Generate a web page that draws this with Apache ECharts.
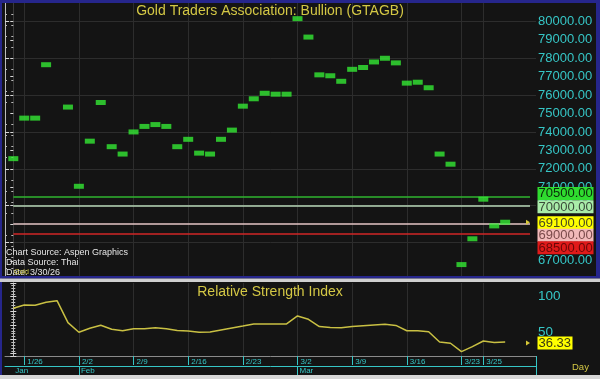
<!DOCTYPE html>
<html><head><meta charset="utf-8">
<script src="https://cdn.jsdelivr.net/npm/echarts@6/dist/echarts.min.js"></script>
<style>html,body{margin:0;padding:0;background:#141414;} #c{width:600px;height:379px;}</style>
</head><body><div id="c"></div>
<script>
// ---------- DATA ----------
const dates = ['1/23','1/26','1/27','1/28','1/29','1/30',
  '2/2','2/3','2/4','2/5','2/6','2/9','2/10','2/11','2/12','2/13',
  '2/16','2/17','2/18','2/19','2/20','2/23','2/24','2/25','2/26','2/27',
  '3/2','3/3','3/4','3/5','3/6','3/9','3/10','3/11','3/12','3/13',
  '3/16','3/17','3/18','3/19','3/20','3/23','3/24','3/25','3/26','3/27'];
const prices = [72550, 74750, 74750, 77650, null, 75350,
  71050, 73500, 75600, 73200, 72800, 74000, 74300, 74400, 74300, 73200,
  73600, 72850, 72800, 73600, 74100, 75400, 75800, 76100, 76050, 76050,
  80150, 79150, 77100, 77050, 76750, 77400, 77500, 77800, 78000, 77750,
  76650, 76700, 76400, 72800, 72250, 66800, 68200, 70350, 68900, 69100];
const rsiValues = [83.7, 88.3, 87.9, 92.1, 94.4, 63.5,
  50.0, 55.6, 59.8, 54.2, 52.2, 55.0, 55.0, 56.5, 55.0, 52.5,
  51.8, 50.0, 50.4, 53.2, 56.0, 58.8, 61.7, 61.7, 61.7, 61.7,
  72.9, 68.3, 58.1, 56.7, 56.5, 58.1, 59.3, 60.3, 61.2, 59.6,
  52.2, 52.2, 50.8, 36.4, 34.6, 22.8, 29.8, 37.8, 35.8, 36.33];
const weekLabelDates = ['1/26','2/2','2/9','2/16','2/23','3/2','3/9','3/16','3/23','3/25'];
const monthLabels = ['Jan','Feb','Mar'];
const monthLabelDates = ['1/23','2/2','3/2'];
const monthTickDates = ['2/2','3/2'];
const priceTickLabels = [80000,79000,78000,77000,76000,75000,74000,73000,72000,71000,70000,69000,68000,67000];
const priceGridValues = [80000,78000,76000,74000,72000,70000,68000];
const levelValues = [70500, 70000, 69000, 68500];
const badgeValues = [70500, 70000, 69100, 69000, 68500];
const lastPrice = 69100;
const rsiTickLabels = [100, 50];
const lastRsi = 36.33;
const titleText = 'Gold Traders Association: Bullion (GTAGB)';
const rsiTitle = 'Relative Strength Index';
const sourceLines = ['Chart Source: Aspen Graphics', 'Data Source: Thai', 'Date: 3/30/26'];

// ---------- STYLE / LAYOUT ----------
const TEAL = '#36c6c6', YEL = '#d4c845', GRIDC = '#2d2d2d', FONT = '"Liberation Sans", Arial, sans-serif';
const XMIN = -0.76, XMAX = 47.82, XEND = 47.27;
const levelColors = ['#2fb52f', '#b7d7b7', '#e4c6c6', '#d02626'];
const badgeStyles = [
  {bg:'#2fdc2f', fg:'#0b2a0b', dy:-3},
  {bg:'#a9eca9', fg:'#3a4a3a', dy:1},
  {bg:'#ffff00', fg:'#4a4a20', dy:0.6},
  {bg:'#f1b9b9', fg:'#7a4a4a', dy:11.2},
  {bg:'#e01a1a', fg:'#6a0808', dy:14.4}
];

const idx = d => dates.indexOf(d);
const weekIdx = weekLabelDates.map(idx);
const monthIdx = monthLabelDates.map(idx);
const monthTickIdx = monthTickDates.map(idx);

const chart = echarts.init(document.getElementById('c'), null, {renderer:'canvas'});

const xHidden = (g) => ({
  gridIndex: g, type: 'value', min: XMIN, max: XMAX,
  axisLine: {show: false}, axisLabel: {show: false},
  axisTick: {show: false, customValues: weekIdx},
  splitLine: {show: true, lineStyle: {color: GRIDC, width: 1}}
});

const option = {
  animation: false,
  backgroundColor: '#141414',
  grid: [
    {left: 5, top: 3, width: 531, height: 273},
    {left: 5, top: 283, width: 531, height: 73}
  ],
  xAxis: [
    xHidden(0),
    {
      gridIndex: 1, type: 'value', min: XMIN, max: XMAX, position: 'bottom',
      axisLine: {show: true, lineStyle: {color: '#8a8a8a', width: 1}},
      axisTick: {show: true, customValues: weekIdx, length: 9, lineStyle: {color: TEAL, width: 1}},
      axisLabel: {show: true, customValues: weekIdx, formatter: v => dates[Math.round(v)],
        color: TEAL, fontSize: 8, fontFamily: FONT, align: 'left', margin: 2, padding: [0,0,0,3]},
      splitLine: {show: true, lineStyle: {color: GRIDC, width: 1}}
    },
    {
      gridIndex: 1, type: 'value', min: XMIN, max: XMAX, position: 'bottom', offset: 10,
      axisLine: {show: true, lineStyle: {color: TEAL, width: 1}},
      axisTick: {show: true, customValues: monthTickIdx, length: 10, lineStyle: {color: TEAL, width: 1}},
      axisLabel: {show: true, customValues: monthIdx, formatter: v => monthLabels[monthIdx.indexOf(Math.round(v))],
        color: TEAL, fontSize: 8, fontFamily: FONT, align: 'left', margin: 1, padding: [0,0,0,2]},
      splitLine: {show: false}
    }
  ],
  yAxis: [
    {
      gridIndex: 0, type: 'value', position: 'right', min: 66180, max: 81000,
      axisLine: {show: true, lineStyle: {color: '#3a3a3a'}},
      axisTick: {show: true, inside: true, length: 3, customValues: priceTickLabels, lineStyle: {color: '#d8d8d8'}},
      minorTick: {show: true, splitNumber: 5, length: 2, lineStyle: {color: '#bcbcbc'}},
      axisLabel: {show: true, customValues: priceTickLabels, formatter: v => v.toFixed(2),
        color: TEAL, fontSize: 13, fontFamily: FONT, margin: 2},
      splitLine: {show: false}
    },
    {
      gridIndex: 0, type: 'value', position: 'left', min: 66180, max: 81000,
      axisLine: {show: true, lineStyle: {color: '#bdbdbd'}},
      axisTick: {show: true, inside: true, length: 4, customValues: priceGridValues, lineStyle: {color: '#d8d8d8'}},
      minorTick: {show: true, splitNumber: 5, length: 2, lineStyle: {color: '#bcbcbc'}},
      axisLabel: {show: false},
      splitLine: {show: true, lineStyle: {color: GRIDC, width: 1}}
    },
    {
      gridIndex: 1, type: 'value', position: 'right', min: 16.7, max: 119.2,
      axisLine: {show: true, lineStyle: {color: '#3a3a3a'}},
      axisTick: {show: true, inside: true, length: 3, lineStyle: {color: '#d8d8d8'}},
      minorTick: {show: true, splitNumber: 5, length: 2, lineStyle: {color: '#bcbcbc'}},
      axisLabel: {show: true, customValues: rsiTickLabels, color: TEAL, fontSize: 13.5, fontFamily: FONT, margin: 2},
      splitLine: {show: false}
    },
    {
      gridIndex: 1, type: 'value', position: 'left', min: 16.7, max: 119.2,
      axisLine: {show: true, lineStyle: {color: '#bdbdbd'}},
      axisTick: {show: true, inside: true, length: 3, lineStyle: {color: '#d8d8d8'}},
      minorTick: {show: true, splitNumber: 5, length: 2, lineStyle: {color: '#bcbcbc'}},
      axisLabel: {show: false},
      splitLine: {show: false}
    }
  ],
  series: [
    {
      type: 'scatter', xAxisIndex: 0, yAxisIndex: 0,
      symbol: 'rect', symbolSize: [10, 5],
      itemStyle: {color: '#33e833'},
      data: prices.map((v, i) => v == null ? null : [i, v]).filter(d => d),
      z: 5,
      markLine: {
        silent: true, symbol: 'none', label: {show: false},
        data: levelValues.map((v, i) => [
          {coord: [0, v], lineStyle: {color: levelColors[i], width: 1.5, type: 'solid'}},
          {coord: [XEND, v]}
        ])
      }
    },
    {
      type: 'line', xAxisIndex: 1, yAxisIndex: 2,
      symbol: 'none', lineStyle: {color: '#c9c043', width: 1.5},
      data: rsiValues.map((v, i) => [i, v])
    }
  ],
  graphic: []
};
chart.setOption(option);

const py = v => chart.convertToPixel({yAxisIndex: 0}, v);
const ry = v => chart.convertToPixel({yAxisIndex: 2}, v);
const ax = chart.convertToPixel({xAxisIndex: 0}, XEND + (528 - 530) / 10.93);

const txt = (x, y, text, fill, size, align, extra) => Object.assign({
  type: 'text', x: x, y: y, z: 120,
  style: {text: text, fill: fill, font: size + 'px ' + FONT,
    align: align || 'left', verticalAlign: 'middle',
    textAlign: align || 'left', textVerticalAlign: 'middle'}
}, extra || {});
const rect = (x, y, w, h, fill, z) => ({type: 'rect', z: z == null ? 110 : z, shape: {x, y, width: w, height: h}, style: {fill}});

const g = [];
// frame
g.push(rect(0, 0, 600, 3, '#26268c'));
g.push(rect(0, 0, 2, 379, '#26268c'));
g.push(rect(596, 0, 4, 278, '#26268c'));
g.push(rect(0, 276, 600, 2.5, '#26268c'));
g.push(rect(0, 278.5, 600, 3.5, '#cfcfcf'));
g.push(rect(0, 375, 600, 4, '#d6d6d6'));
// right teal line in the date strip
g.push({type: 'line', z: 110, shape: {x1: 536.5, y1: 356, x2: 536.5, y2: 375}, style: {stroke: TEAL, lineWidth: 1}});
// titles
g.push(txt(270, 11.5, titleText, YEL, 14, 'center'));
g.push(txt(270, 292, rsiTitle, YEL, 14, 'center'));
// sources
g.push(txt(6, 252.5, sourceLines[0], '#e6e6e6', 9));
g.push(txt(6, 262.5, sourceLines[1], '#e6e6e6', 9));
g.push(txt(6, 272.5, sourceLines[2], '#e6e6e6', 9));
g.push(txt(14, 272.5, 'Gold', '#c8c040', 7));
g.push(txt(572, 367.5, 'Day', YEL, 9.5));
// badges
badgeValues.forEach((v, i) => {
  const s = badgeStyles[i];
  const cy = py(v) + s.dy;
  g.push(rect(537.5, cy - 6.5, 56, 13, s.bg, 130));
  g.push(txt(538.5, cy + 0.5, v.toFixed(2), s.fg, 13, 'left', {z: 131}));
});
const ryy = ry(lastRsi) + 1;
g.push(rect(537.5, ryy - 6.5, 35, 13, '#ffff00', 130));
g.push(txt(538.5, ryy + 0.5, lastRsi.toFixed(2), '#3a3a10', 13, 'left', {z: 131}));
// last value arrows
[[py(lastPrice), 1], [ry(lastRsi) + 1, 1]].forEach(([cy]) => {
  g.push({type: 'polygon', z: 125, shape: {points: [[ax - 2, cy - 2.5], [ax + 2, cy], [ax - 2, cy + 2.5]]}, style: {fill: '#d6c838'}});
});
chart.setOption({graphic: g});
</script>
</body></html>
